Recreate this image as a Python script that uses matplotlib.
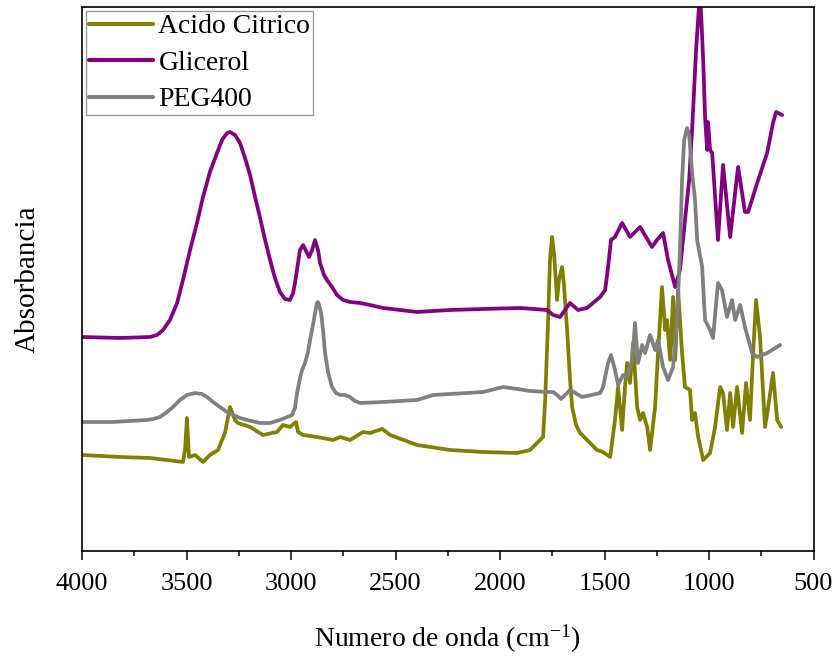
import matplotlib
matplotlib.use("Agg")
import matplotlib.pyplot as plt
from matplotlib.ticker import MultipleLocator, NullLocator

plt.rcParams["font.family"] = ["Liberation Serif", "DejaVu Serif"]
plt.rcParams["mathtext.fontset"] = "custom"
plt.rcParams["mathtext.rm"] = "Liberation Serif"
plt.rcParams["mathtext.it"] = "Liberation Serif:italic"

# FTIR spectra: wavenumber (cm^-1) and absorbance (a.u., offset for display)
citrico_wn = [4000, 3818, 3675, 3517, 3507, 3498, 3488, 3459, 3421, 3388, 3349,
              3340, 3316, 3292, 3268, 3254, 3196, 3134, 3067, 3038, 3005, 2976,
              2966, 2942, 2876, 2799, 2765, 2718, 2655, 2622, 2564, 2526, 2397,
              2239, 2081, 1918, 1856, 1794, 1784, 1770, 1761, 1751, 1741, 1727,
              1718, 1703, 1694, 1679, 1665, 1655, 1636, 1617, 1569, 1536, 1507,
              1473, 1450, 1435, 1416, 1402, 1392, 1378, 1363, 1344, 1330, 1316,
              1296, 1282, 1258, 1244, 1225, 1210, 1201, 1186, 1172, 1162, 1148,
              1129, 1115, 1091, 1081, 1067, 1052, 1028, 995, 971, 947, 933, 914,
              899, 885, 866, 842, 823, 804, 789, 775, 756, 732, 717, 694, 674, 655]
citrico_abs = [0.96, 0.94, 0.93, 0.89, 1.01, 1.33, 0.94, 0.96, 0.89, 0.96, 1.01,
               1.06, 1.18, 1.44, 1.31, 1.28, 1.24, 1.16, 1.19, 1.26, 1.24, 1.29,
               1.19, 1.16, 1.14, 1.11, 1.14, 1.11, 1.19, 1.18, 1.22, 1.16, 1.06,
               1.01, 0.99, 0.98, 1.01, 1.14, 1.51, 2.31, 2.91, 3.14, 2.96, 2.51,
               2.71, 2.84, 2.66, 2.21, 1.71, 1.44, 1.26, 1.18, 1.08, 1.01, 0.99,
               0.94, 1.31, 1.64, 1.21, 1.64, 1.88, 1.68, 2.08, 1.44, 1.31, 1.38,
               1.24, 1.01, 1.44, 1.98, 2.64, 2.21, 2.31, 1.91, 2.54, 1.91, 2.61,
               1.98, 1.64, 1.61, 1.31, 1.38, 1.14, 0.91, 0.98, 1.24, 1.64, 1.58,
               1.21, 1.58, 1.24, 1.64, 1.18, 1.68, 1.31, 1.98, 2.51, 2.14, 1.24,
               1.44, 1.78, 1.31, 1.24]

glicerol_wn = [4000, 3818, 3675, 3641, 3612, 3579, 3545, 3517, 3483, 3450, 3421,
               3388, 3354, 3330, 3306, 3292, 3268, 3244, 3220, 3196, 3172, 3148,
               3124, 3100, 3077, 3053, 3029, 3005, 2990, 2981, 2957, 2942, 2914,
               2899, 2885, 2871, 2861, 2842, 2828, 2804, 2780, 2751, 2718, 2670,
               2622, 2560, 2478, 2397, 2320, 2239, 2081, 1904, 1775, 1746, 1713,
               1665, 1627, 1584, 1521, 1497, 1483, 1469, 1450, 1416, 1378, 1330,
               1273, 1249, 1220, 1196, 1162, 1139, 1115, 1095, 1081, 1062, 1043,
               1028, 1019, 1009, 1005, 995, 985, 957, 933, 899, 861, 828, 813,
               765, 722, 694, 679, 650]
glicerol_abs = [2.14, 2.13, 2.14, 2.16, 2.21, 2.31, 2.48, 2.71, 3.01, 3.28, 3.54,
                3.79, 3.98, 4.11, 4.18, 4.19, 4.16, 4.08, 3.93, 3.76, 3.54, 3.33,
                3.11, 2.91, 2.73, 2.59, 2.52, 2.51, 2.58, 2.68, 3.01, 3.06, 2.94,
                3.01, 3.11, 3.01, 2.88, 2.76, 2.71, 2.64, 2.56, 2.51, 2.49, 2.48,
                2.46, 2.43, 2.41, 2.39, 2.40, 2.41, 2.42, 2.43, 2.41, 2.36, 2.34,
                2.48, 2.41, 2.43, 2.54, 2.61, 2.84, 3.11, 3.14, 3.28, 3.14, 3.24,
                3.04, 3.11, 3.18, 2.91, 2.64, 2.81, 3.31, 3.71, 4.21, 5.01, 5.60,
                4.91, 4.34, 4.01, 4.29, 4.01, 3.98, 3.11, 3.86, 3.14, 3.84, 3.39,
                3.39, 3.71, 3.98, 4.28, 4.39, 4.36]

peg_wn = [4000, 3852, 3689, 3660, 3627, 3593, 3565, 3531, 3498, 3459, 3426, 3402,
          3373, 3340, 3306, 3277, 3244, 3210, 3148, 3100, 3053, 2995, 2981, 2971,
          2957, 2947, 2933, 2919, 2909, 2895, 2885, 2876, 2871, 2866, 2856, 2847,
          2837, 2823, 2804, 2785, 2765, 2742, 2718, 2694, 2670, 2560, 2397, 2320,
          2158, 2081, 1985, 1918, 1856, 1775, 1746, 1727, 1708, 1665, 1607, 1521,
          1507, 1483, 1469, 1450, 1435, 1411, 1392, 1368, 1354, 1340, 1320, 1306,
          1282, 1258, 1244, 1220, 1196, 1172, 1153, 1139, 1129, 1119, 1105, 1095,
          1081, 1067, 1057, 1033, 1019, 995, 981, 957, 938, 914, 890, 875, 851,
          828, 794, 770, 722, 660]
peg_abs = [1.29, 1.29, 1.31, 1.32, 1.34, 1.39, 1.44, 1.51, 1.56, 1.58, 1.57, 1.54,
           1.49, 1.44, 1.39, 1.36, 1.33, 1.31, 1.28, 1.28, 1.31, 1.36, 1.43, 1.58,
           1.73, 1.81, 1.88, 1.99, 2.11, 2.26, 2.38, 2.48, 2.49, 2.46, 2.38, 2.21,
           1.98, 1.79, 1.64, 1.58, 1.56, 1.56, 1.54, 1.50, 1.48, 1.49, 1.51, 1.56,
           1.58, 1.59, 1.64, 1.62, 1.60, 1.59, 1.59, 1.56, 1.52, 1.61, 1.54, 1.58,
           1.64, 1.88, 1.96, 1.81, 1.66, 1.76, 1.74, 1.91, 2.28, 1.88, 2.06, 1.98,
           2.16, 2.01, 2.11, 1.84, 1.71, 1.84, 2.31, 3.01, 3.71, 4.11, 4.23, 4.16,
           3.78, 3.51, 3.11, 2.84, 2.31, 2.21, 2.13, 2.68, 2.61, 2.34, 2.51, 2.31,
           2.46, 2.24, 1.98, 1.94, 1.98, 2.06]

labels = ["Acido Citrico", "Glicerol", "PEG400"]
colors = ["#808000", "#800080", "#808080"]

fig = plt.figure(figsize=(8.35, 6.59), dpi=100)
ax = fig.add_axes([0.0982, 0.1639, 0.9743 - 0.0982, 0.9894 - 0.1639])

for wn, ab, lab, col in zip([citrico_wn, glicerol_wn, peg_wn],
                            [citrico_abs, glicerol_abs, peg_abs],
                            labels, colors):
    ax.plot(wn, ab, color=col, lw=2.7, label=lab,
            solid_joinstyle="round", solid_capstyle="round")

ax.set_xlim(4000, 500)
ax.set_ylim(0, 5.44)
ax.xaxis.set_major_locator(MultipleLocator(500))
ax.xaxis.set_minor_locator(MultipleLocator(250))
ax.yaxis.set_major_locator(NullLocator())
ax.tick_params(axis="x", which="major", direction="out", length=6.5, width=1.1,
               labelsize=19, pad=9)
ax.tick_params(axis="x", which="minor", direction="out", length=3.5, width=1.1)
for sp in ax.spines.values():
    sp.set_linewidth(1.2)
    sp.set_color("black")

ax.set_xlabel("Numero de onda (cm$^{-1}$)", fontsize=20, labelpad=20)
ax.set_ylabel("Absorbancia", fontsize=21, labelpad=30)

leg = ax.legend(loc="upper left", fontsize=20, frameon=True, fancybox=False,
                handlelength=2.3, handletextpad=0.2, borderpad=0.1,
                labelspacing=0.4, borderaxespad=0.15)
leg.get_frame().set_edgecolor("#808080")
leg.get_frame().set_linewidth(1.0)
for line in leg.get_lines():
    line.set_linewidth(3.0)

fig.savefig("out.png", dpi=100)
